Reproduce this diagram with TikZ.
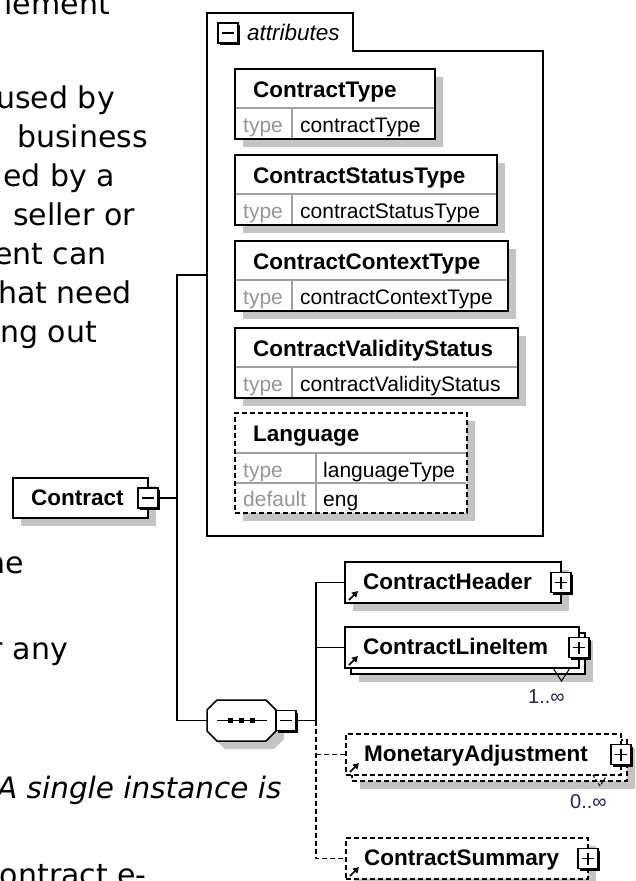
\documentclass[tikz,border=0pt]{standalone}
\usepackage{fontspec}
\setmainfont{Liberation Sans}
\newfontfamily\verdfont{DejaVu Sans}
\usetikzlibrary{arrows.meta}
\definecolor{shadowgray}{RGB}{196,196,196}
\definecolor{labelgray}{RGB}{150,150,150}
\definecolor{divgray}{RGB}{160,160,160}
\definecolor{multicolor}{RGB}{45,30,100}
\tikzset{
  shadowc/.style={fill=shadowgray, draw=none},
  solidbox/.style={draw=black, fill=white, line width=1.9pt, inner sep=0pt, outer sep=0pt},
  dashbox/.style={solidbox, dash pattern=on 5pt off 3pt},
  divline/.style={draw=divgray, line width=1.2pt},
  conn/.style={draw=black, line width=1.5pt},
  dconn/.style={conn, dash pattern=on 5pt off 3pt},
  nametext/.style={font=\bfseries\fontsize{22.5}{26}\selectfont, inner sep=0pt, text=black},
  valtext/.style={font=\fontsize{21}{25}\selectfont, inner sep=0pt, text=black},
  labeltext/.style={font=\fontsize{21}{25}\selectfont, inner sep=0pt, text=labelgray},
  multitext/.style={font=\fontsize{20}{24}\selectfont, inner sep=0pt, text=multicolor},
  lefttext/.style={font=\verdfont\fontsize{30}{36}\selectfont, inner sep=0pt, text=black},
  leftitalic/.style={font=\verdfont\itshape\fontsize{29.5}{36}\selectfont, inner sep=0pt, text=black},
  iconsq/.style={draw=black, fill=white, line width=1.3pt, minimum size=20pt, inner sep=0pt, outer sep=0pt},
  refarrow/.style={draw=black, line width=1.7pt, -{Triangle[length=6pt,width=6.5pt]}},
  hitbox/.style={inner sep=0pt, outer sep=0pt},
  multiv/.style={draw=black, line width=1pt},
}
% icon: name, cx, cy, 1 = plus / 0 = minus
\newcommand\xicon[4]{%
  \node[iconsq] (#1) at (#2,#3) {};
  \draw[line width=2pt] ({#2+11.3},{#3-8}) -- ({#2+11.3},{#3+11.3}) -- ({#2-8},{#3+11.3});
  \draw[line width=1.5pt] ({#2-6},{#3}) -- ({#2+6},{#3});
  \ifnum#4=1 \draw[line width=1.5pt] ({#2},{#3-6}) -- ({#2},{#3+6});\fi
}
% attribute box: name, top y, width, label, type value, style
\newcommand\attrbox[6]{%
  \fill[shadowc] (243,{#2+8}) rectangle ++(#3,70);
  \node[#6, minimum width=#3, minimum height=70, anchor=north west] (#1) at (235,#2) {};
  \draw[divline] (236,{#2+39}) -- ({235+#3-1},{#2+39});
  \draw[divline] (292,{#2+39}) -- (292,{#2+69});
  \node[nametext, anchor=base west] (#1-n) at (253,{#2+28}) {#4};
  \node[labeltext, anchor=base west] (#1-l) at (243,{#2+63}) {type};
  \node[valtext, anchor=base west] (#1-v) at (300,{#2+63}) {#5};
}
% element reference box (front part): name, x, y, width, label, style
\newcommand\refelem[6]{%
  \node[#6, minimum width=#4, minimum height=41, anchor=north west] (#1) at (#2,#3) {};
  \node[nametext, anchor=base west] (#1-n) at ({#2+18},{#3+27}) {#5};
  \draw[refarrow] ({#2+4},{#3+38}) -- ({#2+13},{#3+29});
  \xicon{#1-i}{#2+#4}{#3+20.5}{1}
}
\begin{document}
\begin{tikzpicture}[x=1pt, y=-1pt]
\useasboundingbox (0,0) rectangle (635,881);
\fill[white] (0,0) rectangle (635,881);
\clip (0,0) rectangle (635,881);

% ---------- text of the page behind the diagram ----------
\node[lefttext, anchor=base east] (t1) at (110,14) {lement};
\node[lefttext, anchor=base east] (t2) at (115,108) {used by};
\node[lefttext, anchor=base east] (t3) at (148,147) {business};
\node[lefttext, anchor=base east] (t4) at (115,186) {ed by a};
\node[lefttext, anchor=base east] (t5) at (135,225) {seller or};
\node[lefttext, anchor=base east] (t6) at (107,264) {ent can};
\node[lefttext, anchor=base east] (t7) at (132,303) {hat need};
\node[lefttext, anchor=base east] (t8) at (97,342) {ng out};
\node[lefttext, anchor=base east] (t9) at (24,573) {he};
\node[lefttext, anchor=base east] (t10) at (68,659) {r any};
\node[leftitalic, anchor=base west] (t11) at (-3,798) {A single instance is};
\node[lefttext, anchor=base east] (t12) at (147,885) {Contract e-};

% ---------- attributes group ----------
\node[hitbox, minimum width=336, minimum height=523, anchor=north west] (attr) at (207,13) {};
\draw[line width=1.9pt] (207,13) -- (353,13) -- (353,51) -- (543,51) -- (543,536) -- (207,536) -- cycle;
\xicon{attr-i}{228}{33}{0}
\node[font=\itshape\fontsize{22.5}{26}\selectfont, inner sep=0pt, anchor=base west] (attr-n) at (247,40) {attributes};

\attrbox{a1}{69}{200}{ContractType}{contractType}{solidbox}
\attrbox{a2}{155}{262}{ContractStatusType}{contractStatusType}{solidbox}
\attrbox{a3}{241}{273}{ContractContextType}{contractContextType}{solidbox}
\attrbox{a4}{328}{283}{ContractValidityStatus}{contractValidityStatus}{solidbox}

% Language (optional attribute)
\fill[shadowc] (243,421) rectangle ++(232,100);
\node[dashbox, minimum width=232, minimum height=100, anchor=north west] (lang) at (235,413) {};
\draw[divline] (236,453) -- (466,453);
\draw[divline] (236,483) -- (466,483);
\draw[divline] (316,453) -- (316,512);
\node[nametext, anchor=base west] (lang-n) at (253,441) {Language};
\node[labeltext, anchor=base west] (lang-l1) at (243,477) {type};
\node[valtext, anchor=base west] (lang-v1) at (323,477) {languageType};
\node[labeltext, anchor=base west] (lang-l2) at (243,506) {default};
\node[valtext, anchor=base west] (lang-v2) at (323,506) {eng};

% ---------- Contract element ----------
\fill[shadowc] (21,486) rectangle ++(135,40);
\node[solidbox, minimum width=135, minimum height=40, anchor=north west] (contract) at (13,478) {};
\node[nametext, anchor=base west] (contract-n) at (31,505) {Contract};
\xicon{c-i}{148}{498}{0}

% ---------- sequence compositor ----------
\node[hitbox, minimum width=69, minimum height=41, anchor=north west] (seq) at (207,700) {};
\fill[shadowc] (225,708) -- (274,708) -- (284,718) -- (284,739) -- (274,749) -- (225,749) -- (215,739) -- (215,718) -- cycle;
\draw[fill=white, line width=1.5pt] (217,700) -- (266,700) -- (276,710) -- (276,731) -- (266,741) -- (217,741) -- (207,731) -- (207,710) -- cycle;
\draw[line width=1.2pt] (217,720.5) -- (267,720.5);
\fill (227.5,718) rectangle ++(5,5);
\fill (238.5,718) rectangle ++(5,5);
\fill (249.5,718) rectangle ++(5,5);
\xicon{seq-i}{286}{720.5}{0}

% ---------- child elements ----------
% ContractHeader
\fill[shadowc] (353,570) rectangle ++(216,41);
\refelem{hdr}{345}{562}{216}{ContractHeader}{solidbox}

% ContractLineItem (1..inf)
\fill[shadowc] (359,641) rectangle ++(234,41);
\node[solidbox, minimum width=234, minimum height=41, anchor=north west] (li-back) at (351,633) {};
\refelem{li}{345}{627}{234}{ContractLineItem}{solidbox}
\draw[multiv] (553,668) -- (561.5,681) -- (570,668);
\node[multitext, anchor=base west] (li-m) at (528,703) {1..∞};

% MonetaryAdjustment (0..inf)
\fill[shadowc] (360,748) rectangle ++(275,41);
\node[dashbox, minimum width=275, minimum height=41, anchor=north west] (ma-back) at (352,740) {};
\refelem{ma}{346}{734}{275}{MonetaryAdjustment}{dashbox}
\draw[multiv, dash pattern=on 3pt off 2pt] (593,775) -- (600,786) -- (607,775);
\node[multitext, anchor=base west] (ma-m) at (570,808) {0..∞};

% ContractSummary
\fill[shadowc] (354,846) rectangle ++(242,41);
\refelem{cs}{346}{838}{242}{ContractSummary}{dashbox}

% ---------- connectors ----------
\coordinate (cjTop) at (177,275);
\coordinate (cjBot) at (177,720.5);
\coordinate (sj) at (316,720.5);
\draw[conn] (c-i.east) -| (cjTop) -- (cjTop -| attr.west);
\draw[conn] (c-i.east -| cjTop) -- (cjBot) -- (seq.west);
\draw[conn] (seq-i.east) -- (sj);
\draw[conn] (sj) |- (hdr.west);
\draw[conn] (li.west -| sj) -- (li.west);
\draw[dconn] (sj) |- (cs.west);
\draw[dconn] (ma.west -| sj) -- (ma.west);
\end{tikzpicture}
\end{document}
